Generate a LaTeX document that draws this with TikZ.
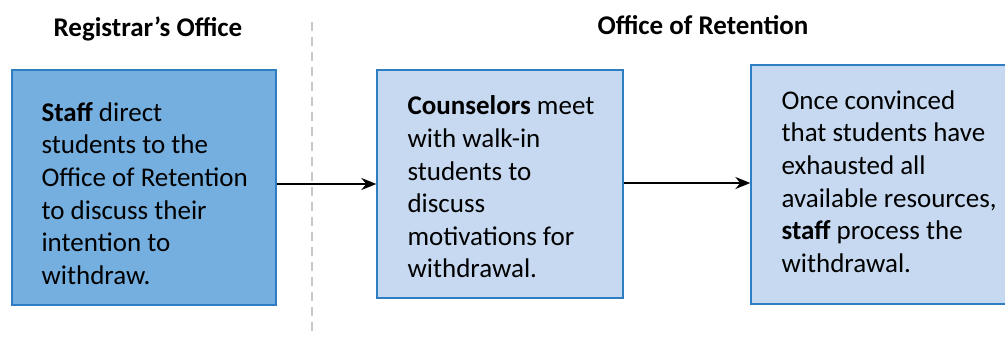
\documentclass[tikz,border=0pt]{standalone}
\usepackage{fontspec}
\setmainfont{Carlito}
\usetikzlibrary{arrows.meta}
\definecolor{edgeblue}{RGB}{46,126,196}
\definecolor{darkfill}{RGB}{117,175,224}
\definecolor{lightfill}{RGB}{198,217,240}
\definecolor{divider}{RGB}{200,200,200}
\tikzset{
  stagebox/.style={draw=edgeblue, line width=1.3pt, rectangle, inner sep=0pt},
  bodytext/.style={align=left, inner sep=0pt, anchor=west,
    font=\fontsize{27}{32.6}\selectfont},
  heading/.style={font=\fontsize{27}{30}\selectfont\bfseries, inner sep=0pt},
  flow/.style={line width=1.8pt, -{Stealth[length=15pt,width=12pt]}},
}
\begin{document}
\begin{tikzpicture}[x=1pt, y=-1pt]
  \useasboundingbox (0,0) rectangle (1005,337);
  % column headings and divider
  \node[heading] (hreg) at (148,29) {Registrar’s Office};
  \node[heading] (hret) at (703,25) {Office of Retention};
  \coordinate (dtop) at (312,22);
  \coordinate (dbot) at (312,337);
  \draw[divider, line width=1.6pt, dash pattern=on 9pt off 6pt] (dtop) -- (dbot);
  % stage boxes
  \node[stagebox, fill=darkfill, minimum width=264pt, minimum height=235pt] (reg) at (144,187.5) {};
  \node[stagebox, fill=lightfill, minimum width=246pt, minimum height=228pt] (couns) at (500,184) {};
  \node[stagebox, fill=lightfill, minimum width=270pt, minimum height=239pt] (proc) at (886,184.5) {};
  % box texts
  \node[bodytext] (regtxt) at ([xshift=30pt,yshift=-6pt]reg.west)
    {\textbf{Staff} direct\\students to the\\Office of Retention\\to discuss their\\intention to\\withdraw.};
  \node[bodytext] (counstxt) at ([xshift=31pt,yshift=-3pt]couns.west)
    {\textbf{Counselors} meet\\with walk-in\\students to\\discuss\\motivations for\\withdrawal.};
  \node[bodytext] (proctxt) at ([xshift=31pt,yshift=3pt]proc.west)
    {Once convinced\\that students have\\exhausted all\\available resources,\\\textbf{staff} process the\\withdrawal.};
  % flow arrows
  \draw[flow] (reg.east |- 0,184) -- (couns.west |- 0,184);
  \draw[flow] (couns.east |- 0,183) -- (proc.west |- 0,183);
\end{tikzpicture}
\end{document}
